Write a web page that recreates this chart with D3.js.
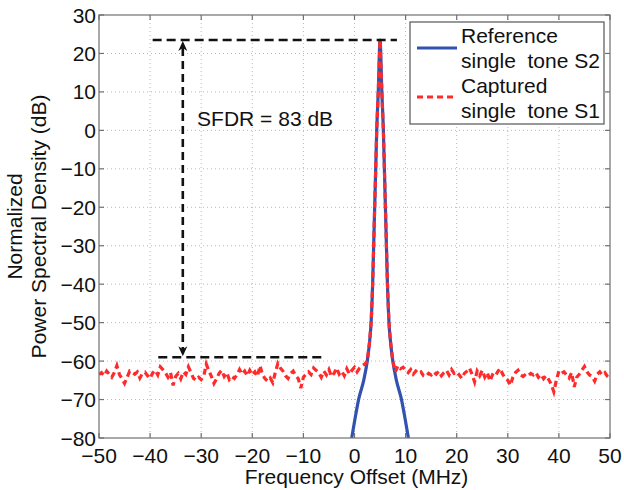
<!DOCTYPE html>
<html><head><meta charset="utf-8">
<script src="https://cdn.jsdelivr.net/npm/d3@7"></script>
<style>
html,body{margin:0;padding:0;background:#fff;}
svg{display:block;font-family:"Liberation Sans",Arial,Helvetica,sans-serif;}
text{white-space:pre;}
</style></head>
<body>
<svg id="chart" width="624" height="490"></svg>
<script>
// ---- data ----
const xTicks = [-50,-40,-30,-20,-10,0,10,20,30,40,50];
const yTicks = [30,20,10,0,-10,-20,-30,-40,-50,-60,-70,-80];
const xLabel = "Frequency Offset (MHz)";
const yLabelLines = ["Normalized","Power Spectral Density (dB)"];
const seriesNames = ["Reference\nsingle  tone S2","Captured\nsingle  tone S1"];

// Reference single tone S2 (frequency MHz, dB)
const refFreq = [-0.55,0.1,0.8,1.8,2.5,2.95,3.25,3.55,3.75,3.95,4.15,4.35,4.65,5.0,5.35,5.65,5.85,6.05,6.25,6.45,6.75,7.05,7.5,8.2,9.2,9.9,10.55];
const refPow  = [-80,-75,-70,-65,-60,-55,-50,-40,-30,-20,-10,0,10,23.5,10,0,-10,-20,-30,-40,-50,-55,-60,-65,-70,-75,-80];

// Captured single tone S1: noise floor left (from -50 MHz, step 0.5 MHz)
const capLeftStart = -50, capStep = 0.5;
const capLeft = [
-63.5,-63.0,-63.8,-62.6,-63.4,-64.2,-63.0,
-61.2,-63.5,-64.6,-65.8,
-64.2,-62.6,-63.0,-63.4,-62.8,-64.4,
-63.2,-62.9,-63.8,-64.5,-63.1,-62.4,
-63.6,-61.5,-62.2,-63.0,-64.2,-63.0,
-66.3,-64.0,-63.2,-64.6,-62.8,-63.5,
-61.5,-63.0,-64.5,-65.0,-64.2,-64.8,
-63.9,-60.8,-62.5,-64.0,-65.8,-64.6,
-63.2,-62.4,-64.0,-63.0,-64.8,-64.0,
-64.5,-63.6,-62.2,-63.4,-62.6,-63.8,
-62.4,-63.6,-62.8,-64.0,-61.2,-63.5,
-64.6,-65.2,-64.4,-65.6,-63.0,-60.6,
-61.8,-62.6,-63.8,-64.5,-63.2,-62.6,
-63.8,-64.6,-67.0,-64.2,-63.4,-62.8,
-63.5,-61.8,-62.4,-63.0,-64.2,-62.6,
-63.6,-62.2,-64.0,-63.2,-61.8,-63.4,
-62.6,-63.8,-62.0,-63.4,-62.4,-61.6,
-62.8,-61.8,-61.2,-60.8];
// noise floor right (from 8 MHz, step 0.5 MHz)
const capRightStart = 8;
const capRight = [
-62.8,-61.2,-62.0,-61.6,-62.4,-63.0,-62.2,-63.4,-62.6,-63.2,
-62.8,-63.8,-64.0,-63.2,-63.6,-62.8,-63.4,-62.6,-63.8,-63.0,
-62.4,-63.6,-62.2,-63.2,-62.8,-63.6,-64.5,-63.2,-62.6,-61.8,
-63.4,-65.4,-62.6,-63.8,-62.4,-64.2,-63.0,-65.2,-63.6,-64.0,
-62.8,-61.9,-63.4,-64.4,-65.0,-66.3,-64.2,-63.0,-62.4,-63.6,
-64.0,-63.4,-63.8,-63.2,-63.6,-63.0,-64.2,-63.5,-64.6,-63.8,
-64.8,-66.0,-68.0,-65.0,-62.6,-63.2,-62.8,-63.6,-64.4,-63.0,
-66.7,-64.2,-63.4,-62.4,-61.4,-62.8,-63.6,-64.0,-65.2,-63.4,
-62.8,-63.6,-63.0,-64.0,-64.6];

// SFDR annotation
const sfdrTop = 23.5, sfdrBottom = -59;
const sfdrArrowX = -33.6;
const sfdrTopSpan = [-39.5, 8.3];
const sfdrBottomSpan = [-38.4, -6.4];
const sfdrText = "SFDR = 83 dB";
const sfdrTextPos = [-30.8, 3.0];

// ---- layout ----
const L = 99, R = 610, T = 15, B = 438;
const FS = 21;
const blue = "#3352b0", red = "#ff2a2a";

const svg = d3.select("#chart");
const x = d3.scaleLinear().domain([-50,50]).range([L,R]);
const y = d3.scaleLinear().domain([-80,30]).range([B,T]);

// grid
const grid = svg.append("g").attr("stroke","#b8b8b8").attr("stroke-width",1).attr("stroke-dasharray","1,3");
xTicks.slice(1,-1).forEach(t=>grid.append("line").attr("x1",x(t)).attr("x2",x(t)).attr("y1",T).attr("y2",B));
yTicks.slice(1,-1).forEach(t=>grid.append("line").attr("y1",y(t)).attr("y2",y(t)).attr("x1",L).attr("x2",R));

// clip
svg.append("clipPath").attr("id","clip").append("rect").attr("x",L).attr("y",T).attr("width",R-L).attr("height",B-T);

const line = d3.line().x(d=>x(d[0])).y(d=>y(d[1]));
const refData = refFreq.map((f,i)=>[f,refPow[i]]);
const peakPart = refData.filter(d=>d[1] > -60.5);
const capData = capLeft.map((v,i)=>[capLeftStart+i*capStep, v])
  .concat(peakPart)
  .concat(capRight.map((v,i)=>[capRightStart+i*capStep, v]));

const plot = svg.append("g").attr("clip-path","url(#clip)");
plot.append("path").datum(refData).attr("d",line.curve(d3.curveMonotoneX))
  .attr("fill","none").attr("stroke",blue).attr("stroke-width",3.2);
plot.append("path").datum(capData).attr("d",d3.line().x(d=>x(d[0])).y(d=>y(d[1]))(capData))
  .attr("fill","none").attr("stroke",red).attr("stroke-width",3.2).attr("stroke-dasharray","6,4");

// SFDR annotation
const ann = svg.append("g").attr("stroke","#111").attr("stroke-width",2.6).attr("fill","none");
ann.append("line").attr("x1",x(sfdrTopSpan[0])).attr("x2",x(sfdrTopSpan[1])).attr("y1",y(sfdrTop)).attr("y2",y(sfdrTop)).attr("stroke-dasharray","9,5");
ann.append("line").attr("x1",x(sfdrBottomSpan[0])).attr("x2",x(sfdrBottomSpan[1])).attr("y1",y(sfdrBottom)).attr("y2",y(sfdrBottom)).attr("stroke-dasharray","9,5");
ann.append("line").attr("x1",x(sfdrArrowX)).attr("x2",x(sfdrArrowX)).attr("y1",y(sfdrTop)+8).attr("y2",y(sfdrBottom)-8).attr("stroke-dasharray","8,5");
const ax = x(sfdrArrowX);
svg.append("path").attr("d",`M${ax},${y(sfdrTop)+1} L${ax-4.5},${y(sfdrTop)+11} L${ax},${y(sfdrTop)+8} L${ax+4.5},${y(sfdrTop)+11} Z`).attr("fill","#111");
svg.append("path").attr("d",`M${ax},${y(sfdrBottom)-1} L${ax-4.5},${y(sfdrBottom)-11} L${ax},${y(sfdrBottom)-8} L${ax+4.5},${y(sfdrBottom)-11} Z`).attr("fill","#111");
svg.append("text").attr("x",x(sfdrTextPos[0])).attr("y",y(sfdrTextPos[1])+7).attr("font-size",FS).attr("fill","#111").text(sfdrText);

// frame + ticks
const axg = svg.append("g").attr("stroke","#707070").attr("stroke-width",1.2);
axg.append("rect").attr("x",L).attr("y",T).attr("width",R-L).attr("height",B-T).attr("fill","none");
xTicks.forEach(t=>{
  axg.append("line").attr("x1",x(t)).attr("x2",x(t)).attr("y1",B).attr("y2",B-5);
  axg.append("line").attr("x1",x(t)).attr("x2",x(t)).attr("y1",T).attr("y2",T+5);
});
yTicks.forEach(t=>{
  axg.append("line").attr("y1",y(t)).attr("y2",y(t)).attr("x1",L).attr("x2",L+5);
  axg.append("line").attr("y1",y(t)).attr("y2",y(t)).attr("x1",R).attr("x2",R-5);
});

const fmt = v => v < 0 ? "\u2212" + Math.abs(v) : String(v);
svg.append("g").selectAll("text").data(xTicks).join("text")
  .attr("x",d=>x(d)).attr("y",B+25).attr("text-anchor","middle").attr("font-size",FS).attr("fill","#111").text(fmt);
svg.append("g").selectAll("text").data(yTicks).join("text")
  .attr("x",L-3).attr("y",d=>y(d)+7.5).attr("text-anchor","end").attr("font-size",FS).attr("fill","#111").text(fmt);

svg.append("text").attr("x",(L+R)/2+2).attr("y",484).attr("text-anchor","middle").attr("font-size",FS).attr("fill","#111").text(xLabel);
yLabelLines.forEach((s,i)=>{
  svg.append("text").attr("transform",`translate(${22+i*24},${(T+B)/2}) rotate(-90)`)
    .attr("text-anchor","middle").attr("font-size",FS).attr("fill","#111").text(s);
});

// legend
const lg = svg.append("g");
lg.append("rect").attr("x",410).attr("y",22).attr("width",194).attr("height",102).attr("fill","#fff").attr("stroke","#555").attr("stroke-width",1.2);
const legendStyles = [{c:blue,dash:null,ly:48,ty:[43,68]},{c:red,dash:"6,4",ly:97,ty:[93,118]}];
seriesNames.forEach((n,i)=>{
  const st = legendStyles[i];
  const l = lg.append("line").attr("x1",417).attr("x2",457).attr("y1",st.ly).attr("y2",st.ly).attr("stroke",st.c).attr("stroke-width",3.2);
  if(st.dash) l.attr("stroke-dasharray",st.dash);
  n.split("\n").forEach((s,j)=>lg.append("text").attr("x",461).attr("y",st.ty[j]).attr("font-size",FS).attr("fill","#111").text(s));
});
</script>
</body></html>
